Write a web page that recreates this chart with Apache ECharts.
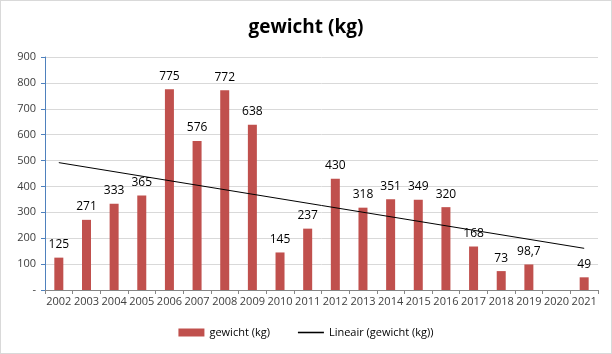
<!DOCTYPE html>
<html>
<head>
<meta charset="utf-8">
<script src="https://cdn.jsdelivr.net/npm/echarts@6/dist/echarts.min.js"></script>
<style>
  html, body { margin: 0; padding: 0; background: #fff; }
  #main { width: 610px; height: 352px; border: 1px solid #d9d9d9; }
</style>
</head>
<body>
<div id="main"></div>
<script>
const years = ['2002', '2003', '2004', '2005', '2006', '2007', '2008', '2009', '2010', '2011',
  '2012', '2013', '2014', '2015', '2016', '2017', '2018', '2019', '2020', '2021'];
const weights = [125, 271, 333, 365, 775, 576, 772, 638, 145, 237,
  430, 318, 351, 349, 320, 168, 73, 98.7, null, 49];
// trendline end points
const trendStart = 492;
const trendEnd = 161;

const dom = document.getElementById('main');
const myChart = echarts.init(dom);

const font = '"Open Sans", "Liberation Sans", sans-serif';

myChart.setOption({
  animation: false,
  textStyle: { fontFamily: font },
  title: {
    text: 'gewicht (kg)',
    left: 'center',
    top: 12,
    textStyle: { fontSize: 19, fontWeight: 'bold', color: '#000', fontFamily: font }
  },
  legend: {
    bottom: 10,
    left: 'center',
    itemGap: 28,
    textStyle: { fontSize: 11, color: '#000' },
    data: [
      { name: 'gewicht (kg)', icon: 'rect', itemStyle: { color: '#c0504d' } },
      { name: 'Lineair (gewicht (kg))', icon: 'path://M0,0 L1,0 L1,0.06 L0,0.06 Z', itemStyle: { color: '#000' } }
    ],
    itemWidth: 26,
    itemHeight: 8
  },
  grid: { left: 44, right: 13, top: 56, bottom: 63 },
  xAxis: {
    type: 'category',
    data: years,
    axisLine: { lineStyle: { color: '#868686' } },
    axisTick: { show: true, interval: 0, length: 4, lineStyle: { color: '#868686' } },
    axisLabel: { interval: 0, fontSize: 11, color: '#404040', margin: 6 }
  },
  yAxis: {
    type: 'value',
    min: 0,
    max: 900,
    interval: 100,
    axisLine: { show: true, lineStyle: { color: '#4f81bd' } },
    axisTick: { show: true, length: 4, lineStyle: { color: '#4f81bd' } },
    axisLabel: {
      fontSize: 11,
      color: '#404040',
      margin: 9,
      formatter: v => (v === 0 ? '-' : String(v))
    },
    splitLine: { lineStyle: { color: '#d9d9d9' } }
  },
  series: [
    {
      name: 'gewicht (kg)',
      type: 'bar',
      data: weights,
      barWidth: 9,
      itemStyle: { color: '#c0504d' },
      label: {
        show: true,
        position: 'top',
        distance: 7,
        fontSize: 12,
        color: '#000',
        formatter: p => String(p.value).replace('.', ',')
      }
    },
    {
      name: 'Lineair (gewicht (kg))',
      type: 'line',
      data: [[0, trendStart], [years.length - 1, trendEnd]],
      symbol: 'none',
      lineStyle: { color: '#000', width: 1 },
      itemStyle: { color: '#000' }
    }
  ]
});
</script>
</body>
</html>
